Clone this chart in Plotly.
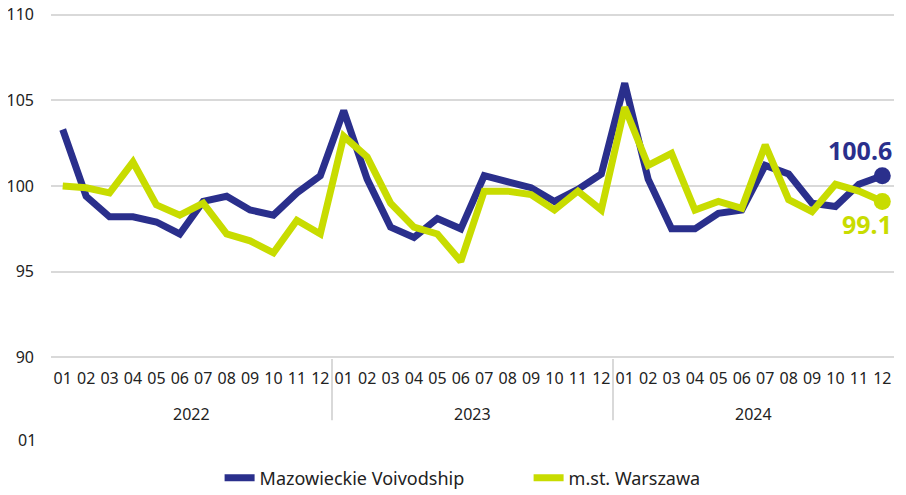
import plotly.graph_objects as go

# Monthly index values, previous month = 100
years = ["2022", "2023", "2024"]
months = ["01", "02", "03", "04", "05", "06", "07", "08", "09", "10", "11", "12"]

mazowieckie = [
    103.3, 99.4, 98.2, 98.2, 97.9, 97.2, 99.1, 99.4, 98.6, 98.3, 99.6, 100.6,
    104.4, 100.4, 97.6, 97.0, 98.1, 97.5, 100.6, 100.3, 99.9, 99.1, 99.8, 100.7,
    106.0, 100.4, 97.5, 97.5, 98.4, 98.6, 101.2, 100.7, 99.0, 98.8, 100.1, 100.6,
]
warszawa = [
    100.0, 99.9, 99.6, 101.4, 98.9, 98.3, 99.0, 97.2, 96.8, 96.1, 98.0, 97.2,
    102.9, 101.7, 99.0, 97.6, 97.2, 95.6, 99.7, 99.7, 99.5, 98.6, 99.7, 98.6,
    104.6, 101.2, 101.9, 98.6, 99.1, 98.7, 102.4, 99.2, 98.5, 100.1, 99.7, 99.1,
]

BLUE = "#2a2f8c"
LIME = "#c8dc00"
GRID = "#d9d9d9"
TEXT = "#222222"
FONT = "Noto Sans"

x = list(range(len(mazowieckie)))
tick_text = months * len(years)

fig = go.Figure()

fig.add_trace(go.Scatter(
    x=x, y=mazowieckie, mode="lines", name="Mazowieckie Voivodship",
    line=dict(color=BLUE, width=7), hoverinfo="skip"
))
fig.add_trace(go.Scatter(
    x=x, y=warszawa, mode="lines", name="m.st. Warszawa",
    line=dict(color=LIME, width=7), hoverinfo="skip"
))

# end markers
fig.add_trace(go.Scatter(
    x=[x[-1]], y=[mazowieckie[-1]], mode="markers", showlegend=False,
    marker=dict(color=BLUE, size=17), hoverinfo="skip"
))
fig.add_trace(go.Scatter(
    x=[x[-1]], y=[warszawa[-1]], mode="markers", showlegend=False,
    marker=dict(color=LIME, size=17), hoverinfo="skip"
))

# end labels
fig.add_annotation(x=x[-1], y=mazowieckie[-1], text="<b>%.1f</b>" % mazowieckie[-1],
                   showarrow=False, xanchor="right", xshift=12, yshift=26,
                   font=dict(family=FONT, size=25, color=BLUE))
fig.add_annotation(x=x[-1], y=warszawa[-1], text="<b>%.1f</b>" % warszawa[-1],
                   showarrow=False, xanchor="right", xshift=12, yshift=-23,
                   font=dict(family=FONT, size=25, color=LIME))

# year labels and dividers
for i, yr in enumerate(years):
    mid = i * 12 + 5.5
    fig.add_annotation(x=mid, y=-0.160, xref="x", yref="paper", text=yr,
                       xanchor="center", yanchor="middle", showarrow=False,
                       font=dict(family=FONT, size=16, color=TEXT))
    if i > 0:
        fig.add_shape(type="line", x0=i * 12 - 0.5, x1=i * 12 - 0.5, y0=0, y1=-0.177,
                      xref="x", yref="paper", line=dict(color=GRID, width=2))

# stray label under the y axis
fig.add_annotation(x=-0.0285, y=-0.235, xref="paper", yref="paper", text="01",
                   xanchor="center", yanchor="middle", showarrow=False,
                   font=dict(family=FONT, size=16, color=TEXT))

fig.update_xaxes(
    range=[-0.5, len(x) - 0.5], tickmode="array", tickvals=x, ticktext=tick_text,
    showgrid=False, zeroline=False, showline=False, ticks="",
    tickangle=0, ticklabelstandoff=8, automargin=False,
    tickfont=dict(family=FONT, size=16, color=TEXT)
)
fig.update_yaxes(
    range=[89.9, 110.1], tickmode="array", tickvals=[90, 95, 100, 105, 110],
    showgrid=True, gridcolor=GRID, gridwidth=2,
    zeroline=False, showline=False, ticks="", ticklabelstandoff=16, automargin=False,
    ticklabeloverflow="allow",
    tickfont=dict(family=FONT, size=16, color=TEXT)
)

# page body adds an 8px offset, so the figure is drawn 8px smaller
fig.update_layout(
    width=898, height=487,
    margin=dict(l=43, r=12, t=5, b=136),
    plot_bgcolor="white", paper_bgcolor="white",
    font=dict(family=FONT, size=16, color=TEXT),
    showlegend=True,
    legend=dict(orientation="h", x=0.2, xanchor="left",
                yref="container", y=0.035, yanchor="middle",
                entrywidth=264, font=dict(family=FONT, size=18, color=TEXT)),
)

fig.write_html("out.html")
